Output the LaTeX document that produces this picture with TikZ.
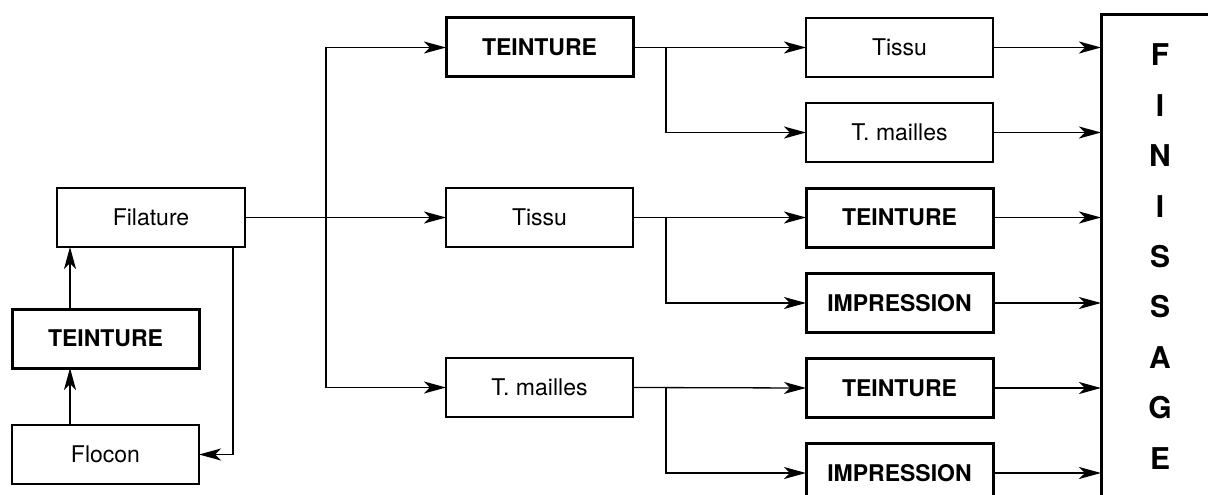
\documentclass[tikz,border=0pt]{standalone}
\usepackage{fontspec}
\setmainfont{TeX Gyre Heros}
\usetikzlibrary{arrows.meta}
\begin{document}
\begin{tikzpicture}[x=1pt,y=-1pt,
  box/.style={draw,line width=1.3pt,minimum width=187pt,minimum height=59pt,
    inner sep=0pt,outer sep=0pt,font=\fontsize{23}{27}\selectfont},
  boldbox/.style={box,line width=3pt,font=\fontsize{23}{27}\selectfont\bfseries},
  link/.style={line width=1.3pt},
  arr/.style={link,-{Stealth[length=22pt,width=12pt,inset=6pt]}}]
\useasboundingbox (0,0) rectangle (1208,495);
\clip (0,0) rectangle (1208,495);

% spinning branch
\node[box,minimum width=188pt] (filature) at (151,217.5) {Filature};
\node[boldbox] (teintL) at (105.5,338.5) {TEINTURE};
\node[box] (flocon) at (105.5,454.5) {Flocon};

% second column
\node[boldbox] (teintT) at (539.5,47.5) {TEINTURE};
\node[box] (tissuM) at (539.5,217.5) {Tissu};
\node[box] (mailM) at (539.5,387.5) {T. mailles};

% third column
\node[box] (tissuR) at (899.5,47.5) {Tissu};
\node[box] (mailR) at (899.5,132.5) {T. mailles};
\node[boldbox] (teintR1) at (899.5,217.5) {TEINTURE};
\node[boldbox] (imprR1) at (899.5,303) {IMPRESSION};
\node[boldbox] (teintR2) at (899.5,388) {TEINTURE};
\node[boldbox] (imprR2) at (899.5,473) {IMPRESSION};

% finishing block
\node[draw,line width=3pt,minimum width=118pt,minimum height=483pt,inner sep=0pt,
  outer sep=0pt,align=center,font=\fontsize{30}{50.4}\selectfont\bfseries]
  (fin) at (1160,256.5) {F\\I\\N\\I\\S\\S\\A\\G\\E};

% routing columns
\coordinate (ax) at (70,0);
\coordinate (fx) at (233,0);
\coordinate (bus) at (326,0);
\coordinate (br) at (666,0);

% left column
\draw[arr] (flocon.north -| ax) -- (teintL.south -| ax);
\draw[arr] (teintL.north -| ax) -- (filature.south -| ax);
\draw[arr] (filature.south -| fx) |- (flocon.east);

% distribution bus
\draw[arr] (filature.east) -- (tissuM.west);
\draw[arr] (filature.east -| bus) |- (teintT.west);
\draw[arr] (filature.east -| bus) |- (mailM.west);

% branches to the third column
\draw[arr] (teintT.east) -- (tissuR.west);
\draw[arr] (teintT.east -| br) |- (mailR.west);
\draw[arr] (tissuM.east) -- (teintR1.west);
\draw[arr] (tissuM.east -| br) |- (imprR1.west);
\draw[arr] (mailM.east) -- (teintR2.west);
\draw[arr] (mailM.east -| br) |- (imprR2.west);

% into finishing
\foreach \n in {tissuR,mailR,teintR1,imprR1,teintR2,imprR2}
  \draw[arr] (\n.east) -- (\n.east -| fin.west);
\end{tikzpicture}
\end{document}
